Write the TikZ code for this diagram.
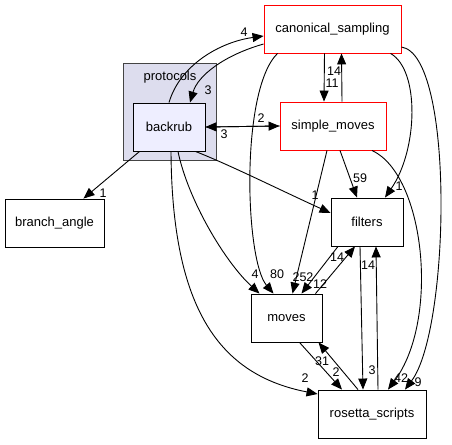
\documentclass[tikz,border=0pt]{standalone}
\usepackage{fontspec}
\setmainfont{Liberation Sans}
\definecolor{clusterfill}{RGB}{221,221,238}
\definecolor{clusterline}{RGB}{68,68,68}
\definecolor{currentfill}{RGB}{238,238,255}
\usetikzlibrary{arrows.meta}

\begin{document}
\begin{tikzpicture}[x=1pt, y=-1pt,
    box/.style={draw=black, fill=white, line width=0.9pt, minimum height=48pt, inner sep=0, font=\fontsize{13}{15}\selectfont},
    redbox/.style={box, draw=red},
    current/.style={box, fill=currentfill},
    cluster/.style={draw=clusterline, fill=clusterfill, line width=0.9pt, inner sep=0},
    dep/.style={line width=0.9pt, -{Triangle[length=11pt,width=9pt]}},
    lbl/.style={inner sep=0, font=\fontsize{12.5}{14}\selectfont},
]
    \fill[white] (0,0) rectangle (452,444);
    \useasboundingbox (0,0) rectangle (452,444);

    \node[cluster, minimum width=93pt, minimum height=97pt] (protocols) at (169.5,111.5) {};
    \node[lbl, font=\fontsize{13}{15}\selectfont] (protolbl) at (170,77) {protocols};
    \node[current, minimum width=72pt] (backrub) at (169,127) {backrub};
    \node[redbox, minimum width=137pt] (canon) at (332.5,29) {canonical\_sampling};
    \node[redbox, minimum width=106pt] (simple) at (333,126) {simple\_moves};
    \node[box, minimum width=99pt] (branch) at (54.5,223) {branch\_angle};
    \node[box, minimum width=72pt] (filters) at (367,222) {filters};
    \node[box, minimum width=71pt] (moves) at (286.5,318) {moves};
    \node[box, minimum width=108pt] (rosetta) at (372,414) {rosetta\_scripts};

    \draw[dep] (backrub.north) .. controls (180,65) and (220,42) .. ([yshift=-7pt]canon.west);
    \draw[dep] ([yshift=-15pt]canon.west) .. controls (225,55) and (198,75) .. ([xshift=21pt]backrub.north);
    \draw[dep] (backrub.east) -- (simple.west);
    \draw[dep] (simple.west) -- (backrub.east);
    \draw[dep] ([xshift=-8pt]canon.south) -- ([xshift=-9pt]simple.north);
    \draw[dep] ([xshift=9pt]simple.north) -- ([xshift=9pt]canon.south);
    \draw[dep] ([xshift=7pt]backrub.south west) -- ([xshift=-21pt]branch.north east);
    \draw[dep] ([xshift=-10pt]backrub.south east) .. controls (230,165) and (280,190) .. ([yshift=9pt]filters.west);
    \draw[dep] ([xshift=9pt]backrub.south) .. controls (188,200) and (225,262) .. ([xshift=-27pt]moves.north);
    \draw[dep] ([xshift=2pt]backrub.south) .. controls (172,310) and (220,375) .. ([yshift=20pt]rosetta.west);
    \draw[dep] ([xshift=-55pt]canon.south) .. controls (240,90) and (245,260) .. ([xshift=-13pt]moves.north);
    \draw[dep] ([xshift=58pt]canon.south) .. controls (420,70) and (418,150) .. ([xshift=18pt]filters.north);
    \draw[dep] ([yshift=-18pt]canon.east) .. controls (455,55) and (450,330) .. ([xshift=33pt]rosetta.north);
    \draw[dep] ([xshift=7pt]simple.south) -- ([xshift=-10pt]filters.north);
    \draw[dep] ([xshift=-6pt]simple.south) -- ([xshift=6pt]moves.north);
    \draw[dep] ([xshift=39pt]simple.south) .. controls (425,175) and (440,320) .. ([xshift=16pt]rosetta.north);
    \draw[dep] ([xshift=-29pt]filters.south) -- ([xshift=15pt]moves.north);
    \draw[dep] ([xshift=29pt]moves.north) -- ([xshift=-12pt]filters.south);
    \draw[dep] ([xshift=-7pt]filters.south) -- ([xshift=-9pt]rosetta.north);
    \draw[dep] ([xshift=6pt]rosetta.north) -- ([xshift=9pt]filters.south);
    \draw[dep] ([xshift=13pt]moves.south) -- ([xshift=-30pt]rosetta.north);
    \draw[dep] ([xshift=-14pt]rosetta.north) -- ([xshift=32pt]moves.south);

    \node[lbl] (l1) at (244,32) {4};
    \node[lbl] (l2) at (208,90) {3};
    \node[lbl] (l3) at (261,118) {2};
    \node[lbl] (l4) at (224,134) {3};
    \node[lbl] (l5) at (334,71) {14};
    \node[lbl] (l6) at (332,83) {11};
    \node[lbl] (l7) at (103,193) {1};
    \node[lbl] (l8) at (315,195) {1};
    \node[lbl] (l9) at (255,274) {4};
    \node[lbl] (l10) at (277,274) {80};
    \node[lbl] (l11) at (303,277) {252};
    \node[lbl] (l12) at (320,284) {12};
    \node[lbl] (l13) at (337,257) {14};
    \node[lbl] (l14) at (360,178) {59};
    \node[lbl] (l15) at (399,186) {1};
    \node[lbl] (l16) at (368,265) {14};
    \node[lbl] (l17) at (372,370) {3};
    \node[lbl] (l18) at (322,361) {31};
    \node[lbl] (l19) at (336,372) {2};
    \node[lbl] (l20) at (305,378) {2};
    \node[lbl] (l21) at (401,378) {42};
    \node[lbl] (l22) at (418,382) {9};
\end{tikzpicture}
\end{document}
